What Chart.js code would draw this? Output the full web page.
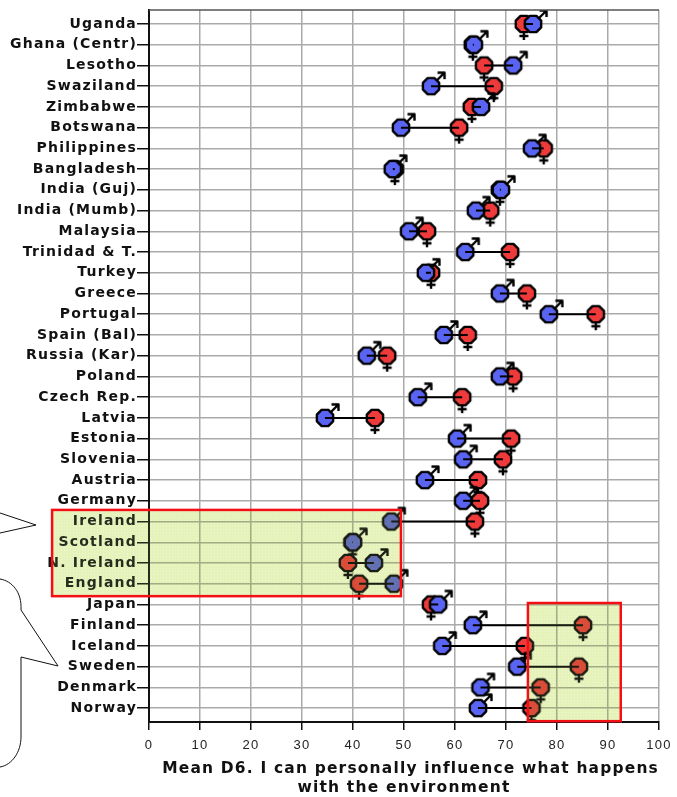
<!DOCTYPE html>
<html>
<head>
<meta charset="utf-8">
<title>Mean D6</title>
<script src="https://cdn.jsdelivr.net/npm/chart.js@4/dist/chart.umd.min.js"></script>
<style>
  html, body { margin: 0; padding: 0; background: #fff; }
  canvas { display: block; }
</style>
</head>
<body>
<canvas id="chart" width="677" height="797"></canvas>
<script>
// Data
const countries = ['Uganda', 'Ghana (Centr)', 'Lesotho', 'Swaziland', 'Zimbabwe', 'Botswana', 'Philippines',
    'Bangladesh', 'India (Guj)', 'India (Mumb)', 'Malaysia', 'Trinidad & T.', 'Turkey', 'Greece', 'Portugal',
    'Spain (Bal)', 'Russia (Kar)', 'Poland', 'Czech Rep.', 'Latvia', 'Estonia', 'Slovenia', 'Austria', 'Germany',
    'Ireland', 'Scotland', 'N. Ireland', 'England', 'Japan', 'Finland', 'Iceland', 'Sweden', 'Denmark', 'Norway'];
const maleMeans = [75.3, 63.7, 71.4, 55.3, 65.1, 49.4, 75.1, 47.8, 69.0, 64.1, 51.0, 62.0, 54.3, 68.8, 78.4,
    57.8, 42.7, 68.8, 52.7, 34.5, 60.4, 61.6, 54.1, 61.6, 47.5, 40.0, 44.1, 48.0, 56.7, 63.5, 57.5, 72.2, 65.0, 64.5];
const femaleMeans = [73.5, 63.5, 65.7, 67.6, 63.3, 60.8, 77.4, 48.2, 68.8, 66.9, 54.5, 70.8, 55.3, 74.1, 87.6,
    62.5, 46.7, 71.4, 61.4, 44.3, 71.0, 69.4, 64.5, 64.9, 63.9, 39.9, 39.0, 41.2, 55.3, 85.1, 73.7, 84.3, 76.8, 75.0];

// Highlighted groups: [x from, x to, first row, last row]
const highlightBoxes = [
    [-19, 49.4, 23.44, 27.6],
    [74.3, 92.5, 27.93, 33.63],
];

const MARKER_SIZE = 44;

function makeMarker(fill, drawSymbol) {
    const c = document.createElement('canvas');
    c.width = c.height = MARKER_SIZE;
    const g = c.getContext('2d');
    g.translate(MARKER_SIZE / 2, MARKER_SIZE / 2);
    g.strokeStyle = '#000';
    g.lineWidth = 2.4;
    g.lineJoin = 'round';
    drawSymbol(g);
    g.beginPath();
    for (let i = 0; i < 8; i++) {
        const a = Math.PI / 8 + i * Math.PI / 4;
        g.lineTo(Math.cos(a) * 8.8, Math.sin(a) * 8.8);
    }
    g.closePath();
    g.fillStyle = fill;
    g.fill();
    g.stroke();
    return c;
}

const maleMarker = makeMarker('#5a64f2', g => {
    g.beginPath();
    g.moveTo(4, -4);
    g.lineTo(13, -13);
    g.moveTo(6.5, -13.5);
    g.lineTo(13.5, -13.5);
    g.lineTo(13.5, -7);
    g.stroke();
});
const femaleMarker = makeMarker('#ee3a3a', g => {
    g.beginPath();
    g.moveTo(0, 6);
    g.lineTo(0, 16);
    g.moveTo(-4.5, 12);
    g.lineTo(4.5, 12);
    g.stroke();
});

// One thin line per country, from the male to the female mean
const connectors = countries.map((name, i) => ({
    type: 'line',
    label: name,
    data: [{ x: maleMeans[i], y: i }, { x: femaleMeans[i], y: i }],
    borderColor: '#000',
    borderWidth: 2,
    pointRadius: 0,
    order: 0,
}));

// Top frame, callout bubbles and the tinted boxes
const overlayPlugin = {
    id: 'overlay',
    beforeDraw(chart) {
        chart.ctx.letterSpacing = '1.2px';
    },
    afterDraw(chart) {
        const { ctx, chartArea, scales } = chart;
        ctx.save();
        ctx.strokeStyle = '#555';
        ctx.lineWidth = 1.5;
        ctx.beginPath();
        ctx.moveTo(chartArea.left, chartArea.top);
        ctx.lineTo(chartArea.right, chartArea.top);
        ctx.stroke();

        ctx.strokeStyle = '#111';
        ctx.lineWidth = 1;
        ctx.beginPath();
        ctx.moveTo(0, 513);
        ctx.lineTo(36, 525);
        ctx.lineTo(0, 533);
        ctx.stroke();
        ctx.beginPath();
        ctx.moveTo(0, 579);
        ctx.bezierCurveTo(12, 581, 22, 592, 21, 610);
        ctx.lineTo(58, 666);
        ctx.lineTo(21, 657);
        ctx.lineTo(21, 737);
        ctx.bezierCurveTo(21, 752, 12, 765, 0, 767);
        ctx.stroke();

        const tile = document.createElement('canvas');
        tile.width = tile.height = 3;
        const t = tile.getContext('2d');
        t.fillStyle = '#e8f3c0';
        t.fillRect(0, 0, 3, 3);
        t.fillStyle = '#f4f9de';
        t.fillRect(1, 1, 1, 1);
        const pattern = ctx.createPattern(tile, 'repeat');
        highlightBoxes.forEach(([x0, x1, y0, y1]) => {
            const left = scales.x.getPixelForValue(x0);
            const right = scales.x.getPixelForValue(x1);
            const top = scales.y.getPixelForValue(y0);
            const bottom = scales.y.getPixelForValue(y1);
            ctx.globalCompositeOperation = 'multiply';
            ctx.fillStyle = pattern;
            ctx.fillRect(left, top, right - left, bottom - top);
            ctx.globalCompositeOperation = 'source-over';
            ctx.fillStyle = 'rgba(215,235,150,0.12)';
            ctx.fillRect(left, top, right - left, bottom - top);
            ctx.strokeStyle = '#f40f14';
            ctx.lineWidth = 2.5;
            ctx.strokeRect(left, top, right - left, bottom - top);
        });
        ctx.restore();
    },
};

new Chart(document.getElementById('chart'), {
    type: 'scatter',
    data: {
        datasets: [
            ...connectors,
            {
                label: 'Male',
                data: maleMeans.map((v, i) => ({ x: v, y: i })),
                pointStyle: maleMarker,
                pointRadius: MARKER_SIZE / 2,
                order: 1,
            },
            {
                label: 'Female',
                data: femaleMeans.map((v, i) => ({ x: v, y: i })),
                pointStyle: femaleMarker,
                pointRadius: MARKER_SIZE / 2,
                order: 2,
            },
        ],
    },
    options: {
        responsive: false,
        animation: false,
        layout: { autoPadding: false, padding: { top: 10, right: 18, left: 0, bottom: 0 } },
        plugins: { legend: { display: false }, tooltip: { enabled: false } },
        scales: {
            x: {
                type: 'linear',
                min: 0,
                max: 100,
                ticks: { stepSize: 10, color: '#222', padding: 8, maxRotation: 0, font: { family: 'Liberation Sans', size: 13 } },
                grid: { color: '#aaa', lineWidth: 1.5, tickColor: '#111', tickLength: 8 },
                border: { color: '#111', width: 2 },
                title: {
                    display: true,
                    text: ['  Mean D6. I can personally influence what happens', 'with the environment'],
                    color: '#111',
                    padding: { top: 0, bottom: 0 },
                    font: { family: 'DejaVu Sans', size: 15.5, weight: 'bold', lineHeight: 1.2 },
                },
                afterFit(scale) {
                    scale.height = 75;
                    scale.paddingLeft = 0;
                    scale.paddingRight = 0;
                },
            },
            y: {
                type: 'linear',
                reverse: true,
                min: -0.675,
                max: 33.67,
                afterBuildTicks(scale) {
                    scale.ticks = countries.map((c, i) => ({ value: i }));
                },
                ticks: {
                    autoSkip: false,
                    color: '#111',
                    padding: 0,
                    font: { family: 'DejaVu Sans', size: 14, weight: 'bold' },
                    callback: value => countries[value],
                },
                grid: { color: '#aaa', lineWidth: 1.5, tickColor: '#111', tickLength: 12 },
                border: { color: '#111', width: 2 },
                afterFit(scale) {
                    scale.width = 149;
                    scale.paddingTop = 0;
                    scale.paddingBottom = 0;
                },
            },
        },
    },
    plugins: [overlayPlugin],
});
</script>
</body>
</html>
